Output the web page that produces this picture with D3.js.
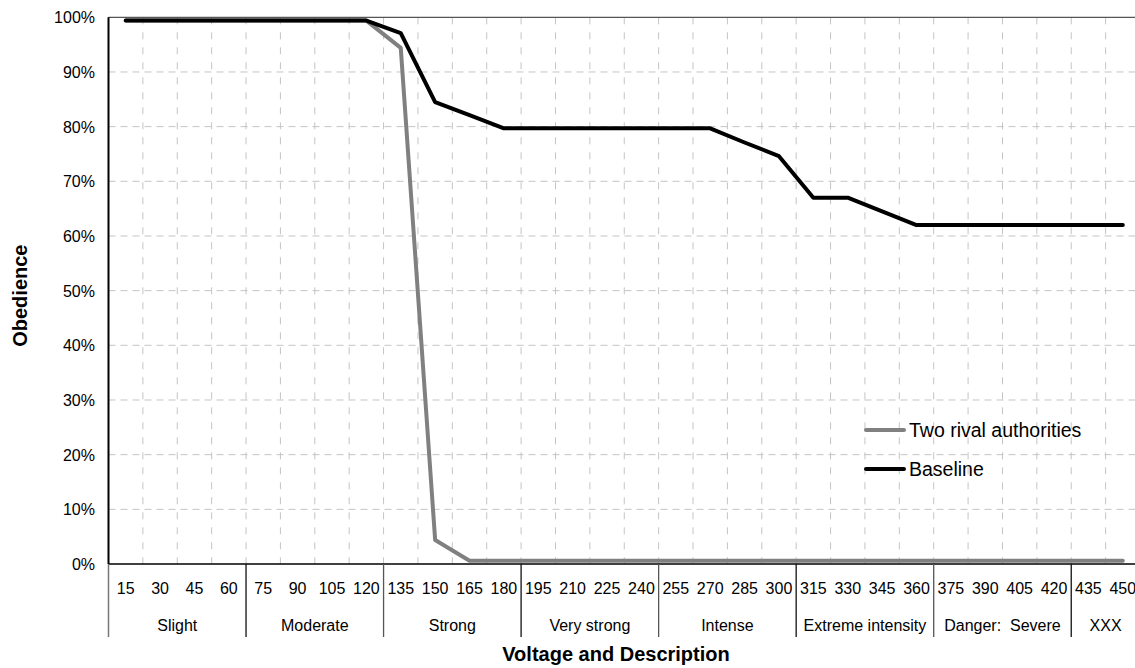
<!DOCTYPE html>
<html>
<head>
<meta charset="utf-8">
<script src="https://cdn.jsdelivr.net/npm/d3@7"></script>
<style>
    body { margin: 0; background: #fff; }
    svg { display: block; font-family: 'Liberation Sans', Arial, sans-serif; }
    .grid line { stroke: #c4c4c4; stroke-width: 1; }
    .tick-label { font-size: 16px; fill: #000; }
    .legend-label { font-size: 19.5px; fill: #000; }
    .axis-title { font-size: 20px; font-weight: bold; fill: #000; }
</style>
</head>
<body>
<svg class="chart"></svg>
<script>

const voltages = [15, 30, 45, 60, 75, 90, 105, 120, 135, 150, 165, 180, 195, 210, 225,
    240, 255, 270, 285, 300, 315, 330, 345, 360, 375, 390, 405, 420, 435, 450]

const groups = ['Slight', 'Moderate', 'Strong', 'Very strong', 'Intense',
    'Extreme intensity', 'Danger:  Severe', 'XXX']

const groupSize = [4, 4, 4, 4, 4, 4, 4, 2]

const baseline = [99.4, 99.4, 99.4, 99.4, 99.4, 99.4, 99.4, 99.4, 97.1, 84.5,
    82.1, 79.7, 79.7, 79.7, 79.7, 79.7, 79.7, 79.7, 77.1, 74.6,
    67, 67, 64.5, 62, 62, 62, 62, 62, 62, 62]

const rival = [99.4, 99.4, 99.4, 99.4, 99.4, 99.4, 99.4, 99.4, 94.4, 4.4,
    0.6, 0.6, 0.6, 0.6, 0.6, 0.6, 0.6, 0.6, 0.6, 0.6,
    0.6, 0.6, 0.6, 0.6, 0.6, 0.6, 0.6, 0.6, 0.6, 0.6]

const yTicks = [0, 10, 20, 30, 40, 50, 60, 70, 80, 90, 100]

const series = [
    { name: 'Two rival authorities', values: rival, color: '#808080' },
    { name: 'Baseline', values: baseline, color: '#000' }
]

const width = 1135
const height = 668

const padding = {
    top: 17.3,
    left: 108.5,
    right: -5,
    bottom: 104
}

const svg = d3.select('.chart')
    .attr('width', width)
    .attr('height', height)

const plotBottom = height - padding.bottom
const plotRight = width - padding.right

const xScale = d3.scaleBand()
    .domain(voltages)
    .range([ padding.left, plotRight ])

const yScale = d3.scaleLinear()
    .domain([ 0, 100 ])
    .range([ plotBottom, padding.top ])

const step = xScale.step()

// grid
const grid = svg.append('g').attr('class', 'grid')

grid.selectAll('.hgrid')
    .data(yTicks.filter(d => d > 0 && d < 100))
    .enter()
    .append('line')
    .attr('x1', padding.left)
    .attr('x2', plotRight)
    .attr('y1', d => yScale(d))
    .attr('y2', d => yScale(d))
    .attr('stroke-dasharray', '7,5')

grid.selectAll('.vgrid')
    .data(voltages.slice(1))
    .enter()
    .append('line')
    .attr('x1', d => xScale(d))
    .attr('x2', d => xScale(d))
    .attr('y1', padding.top)
    .attr('y2', plotBottom)
    .attr('stroke-dasharray', '7,8')

// top border
svg.append('line')
    .attr('x1', padding.left)
    .attr('x2', plotRight)
    .attr('y1', padding.top)
    .attr('y2', padding.top)
    .attr('stroke', '#555')
    .attr('stroke-width', 1.2)

// y labels
svg.selectAll('.ylabel')
    .data(yTicks)
    .enter()
    .append('text')
    .attr('class', 'tick-label')
    .attr('x', 95)
    .attr('y', d => yScale(d) + 6)
    .attr('text-anchor', 'end')
    .text(d => d + '%')

// lines
const line = d3.line()
    .x((d, i) => xScale(voltages[i]) + step / 2)
    .y(d => yScale(d))

svg.selectAll('.series')
    .data(series)
    .enter()
    .append('path')
    .attr('d', d => line(d.values))
    .attr('fill', 'none')
    .attr('stroke', d => d.color)
    .attr('stroke-width', 4)
    .attr('stroke-linecap', 'round')
    .attr('stroke-linejoin', 'round')

// axes
svg.append('line')
    .attr('x1', padding.left)
    .attr('x2', plotRight)
    .attr('y1', plotBottom)
    .attr('y2', plotBottom)
    .attr('stroke', '#000')
    .attr('stroke-width', 1.5)

svg.append('line')
    .attr('x1', padding.left)
    .attr('x2', padding.left)
    .attr('y1', padding.top)
    .attr('y2', plotBottom)
    .attr('stroke', '#000')
    .attr('stroke-width', 2)

svg.append('line')
    .attr('x1', padding.left)
    .attr('x2', padding.left)
    .attr('y1', plotBottom)
    .attr('y2', plotBottom + 73)
    .attr('stroke', '#777')
    .attr('stroke-width', 1.5)

// voltage labels
svg.selectAll('.xlabel')
    .data(voltages)
    .enter()
    .append('text')
    .attr('class', 'tick-label')
    .attr('x', d => xScale(d) + step / 2)
    .attr('y', plotBottom + 30)
    .attr('text-anchor', 'middle')
    .text(d => d)

// description groups
let start = 0
const groupData = groups.map((g, i) => {
    const d = { name: g, from: voltages[start], to: voltages[start + groupSize[i] - 1] }
    start += groupSize[i]
    return d
})

svg.selectAll('.glabel')
    .data(groupData)
    .enter()
    .append('text')
    .attr('class', 'tick-label')
    .attr('x', d => (xScale(d.from) + xScale(d.to) + step) / 2)
    .attr('y', plotBottom + 67)
    .attr('text-anchor', 'middle')
    .style('white-space', 'pre')
    .text(d => d.name)

svg.selectAll('.gdivider')
    .data(groupData.slice(1))
    .enter()
    .append('line')
    .attr('x1', d => xScale(d.from))
    .attr('x2', d => xScale(d.from))
    .attr('y1', plotBottom)
    .attr('y2', plotBottom + 73)
    .attr('stroke', (d, i) => i % 2 === 0 ? '#111' : '#555')
    .attr('stroke-width', 1.3)

// titles
svg.append('text')
    .attr('class', 'axis-title')
    .attr('x', 616)
    .attr('y', 661)
    .attr('text-anchor', 'middle')
    .text('Voltage and Description')

svg.append('text')
    .attr('class', 'axis-title')
    .attr('transform', `translate(27, ${(padding.top + plotBottom) / 2 + 5}) rotate(-90)`)
    .attr('text-anchor', 'middle')
    .text('Obedience')

// legend
const legend = svg.selectAll('.legend')
    .data(series)
    .enter()
    .append('g')
    .attr('transform', (d, i) => `translate(865, ${430 + i * 39})`)

legend.append('rect')
    .attr('x', 0)
    .attr('y', -2)
    .attr('width', 40)
    .attr('height', 4)
    .attr('fill', '#fff')

legend.append('line')
    .attr('x1', 1)
    .attr('x2', 39)
    .attr('stroke', d => d.color)
    .attr('stroke-width', 4)
    .attr('stroke-linecap', 'round')

legend.append('text')
    .attr('class', 'legend-label')
    .attr('x', 44)
    .attr('y', 7)
    .text(d => d.name)

</script>
</body>
</html>
